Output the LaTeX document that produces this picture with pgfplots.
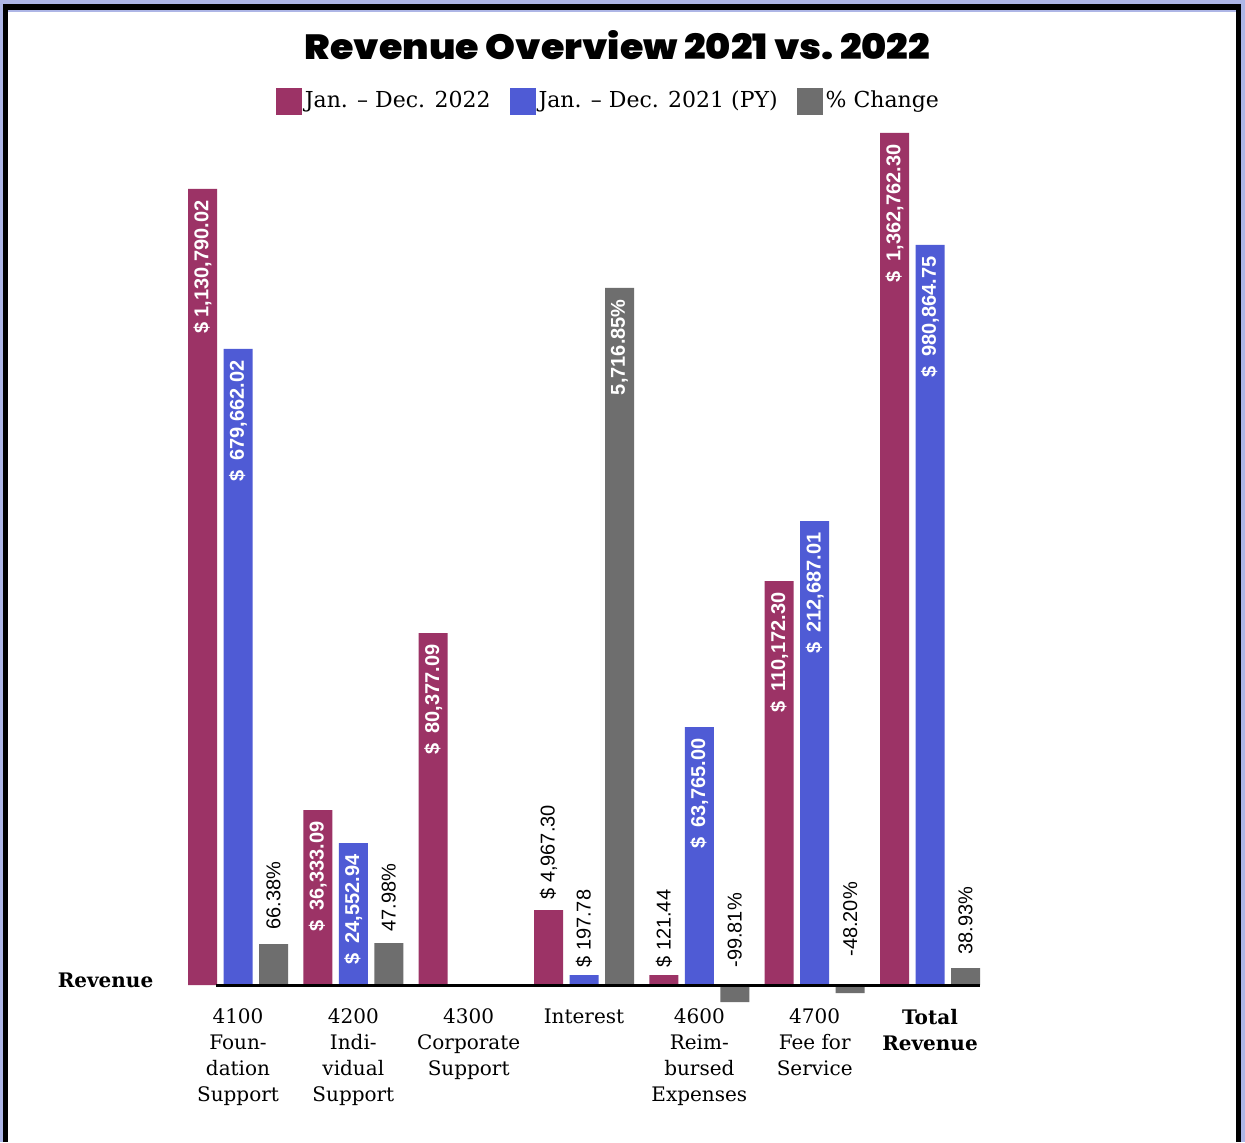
\documentclass[border=0pt]{standalone}
\usepackage{pgfplots}
\pgfplotsset{compat=1.18}
\usepackage{pgfplotstable}
\usepackage{graphicx}
\usepackage{fontspec}
\setmainfont{DejaVu Serif}
\newfontfamily\labfont{Liberation Sans}
\IfFontExistsTF{Poppins Black}
  {\newfontfamily\titlefont{Poppins Black}}
  {\newfontfamily\titlefontbase{Poppins}\newcommand\titlefont{\titlefontbase\bfseries}}

\definecolor{cM}{HTML}{9C3366}
\definecolor{cB}{HTML}{4F5BD5}
\definecolor{cG}{HTML}{6E6E6E}
\definecolor{bg}{HTML}{AEB6E6}

% bar heights as drawn (px above the base line), labels, and label start for outside labels
\pgfplotstableread[col sep=semicolon]{
x;h;inl;outl;ly
0;796;\$\ 1,130,790.02;;0
1;175;\$\enspace36,333.09;;0
2;352;\$\enspace80,377.09;;0
3;75;;\$\ 4,967.30;85
4;10;;\$\ 121.44;17
5;404;\$\enspace110,172.30;;0
6;852;\$\enspace1,362,762.30;;0
}\tabM
\pgfplotstableread[col sep=semicolon]{
x;h;inl;outl;ly
0;636;\$\enspace679,662.02;;0
1;142;\$\enspace24,552.94;;0
3;10;;\$\ 197.78;17
4;258;\$\enspace63,765.00;;0
5;464;\$\enspace212,687.01;;0
6;740;\$\enspace980,864.75;;0
}\tabB
\pgfplotstableread[col sep=semicolon]{
x;h;inl;outl;ly
0;41;;66.38\%;55
1;42;;47.98\%;53
3;697;5,716.85\%;;0
4;-17;;-99.81\%;17
5;-8;;-48.20\%;28
6;17;;38.93\%;30
}\tabG

\pgfplotsset{
  inlab/.style={nodes near coords, point meta=explicit symbolic,
    every node near coord/.append style={yshift=-5.5pt, rotate=90, anchor=east,
      text=white, inner sep=0pt, font=\labfont\bfseries\fontsize{10}{12}\selectfont}},
  outlab/.style={forget plot, draw=none, fill=none, nodes near coords, point meta=explicit symbolic,
    every node near coord/.append style={rotate=90, anchor=west,
      text=black, inner sep=0pt, font=\labfont\fontsize{10}{12}\selectfont}},
}

\begin{document}
\begin{tikzpicture}
\useasboundingbox (0,0) rectangle (622.5pt,571pt);
\fill[bg] (0,0) rectangle (622.5pt,571pt);
\fill[black] (1.5pt,0) rectangle (620.5pt,569pt);
\fill[bg] (4pt,0) rectangle (618pt,566pt);
\fill[white] (4pt,0) rectangle (618pt,565pt);

\node[anchor=base] at (308.75pt,541pt)
  {\resizebox{312.5pt}{14.5pt}{\titlefont Revenue Overview 2021 vs.\ 2022}};
\node[anchor=base, font=\bfseries\fontsize{10}{12}\selectfont] at (52.75pt,77.5pt) {Revenue};

\begin{axis}[
  at={(84.4pt,68.5pt)}, anchor=south west,
  width=415.2pt, height=445pt, scale only axis,
  xmin=-0.6, xmax=6.6, ymin=-20, ymax=870,
  ybar, bar width=14.5pt,
  clip=false,
  axis line style={draw=none}, major tick length=0pt,
  ytick=\empty,
  xtick={0,...,6},
  xticklabels={{4100\\Foun-\\dation\\Support},{4200\\Indi-\\vidual\\Support},
    {4300\\Corporate\\Support},{Interest},{4600\\Reim-\\bursed\\Expenses},
    {4700\\Fee for\\Service},{\textbf{Total}\\\textbf{Revenue}}},
  xticklabel style={align=center, font=\fontsize{10}{13}\selectfont, inner sep=0pt, yshift=-1.7pt},
  every axis plot post/.append style={
    legend image code/.code={\fill[##1] (0pt,-6.75pt) rectangle (13pt,6.75pt);}},
  legend columns=3,
  legend style={at={(0.530,1.0157)}, anchor=center, draw=none, fill=none, inner sep=0pt,
    font=\fontsize{11}{13}\selectfont,
    nodes={inner xsep=1.5pt, inner ysep=0pt},
    /tikz/every even column/.append style={column sep=8pt}},
]
\addplot[fill=cM, draw=none, bar shift=-17.75pt, inlab] table[x=x, y=h, meta=inl] {\tabM};
\addlegendentry{Jan. – Dec. 2022}
\addplot[fill=cB, draw=none, bar shift=0pt, inlab] table[x=x, y=h, meta=inl] {\tabB};
\addlegendentry{Jan. – Dec. 2021 (PY)}
\addplot[fill=cG, draw=none, bar shift=17.75pt, inlab] table[x=x, y=h, meta=inl] {\tabG};
\addlegendentry{\% Change}

\addplot[bar shift=-17.75pt, outlab] table[x=x, y=ly, meta=outl] {\tabM};
\addplot[bar shift=0pt, outlab] table[x=x, y=ly, meta=outl] {\tabB};
\addplot[bar shift=17.75pt, outlab] table[x=x, y=ly, meta=outl] {\tabG};

\draw[line width=1.5pt] (axis cs:-0.191,0) -- (axis cs:6.434,0);
\end{axis}
\end{tikzpicture}
\end{document}
